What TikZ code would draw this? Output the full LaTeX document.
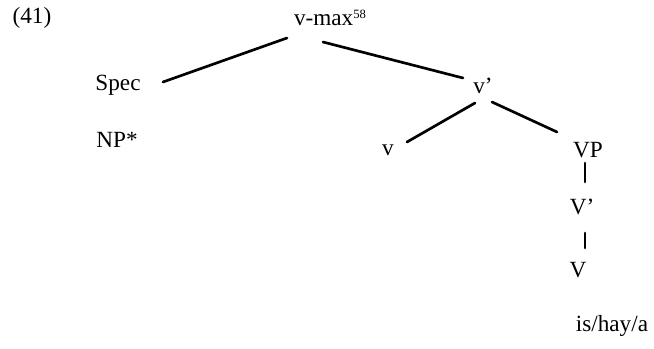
\documentclass[tikz,border=0pt]{standalone}
\usepackage{fontspec}
\setmainfont{Liberation Serif}
\usepackage{tikz}
\usetikzlibrary{
  calc
}

\begin{document}
\begin{tikzpicture}[
  x=0.025cm, y=-0.025cm,
  label/.style={
    inner sep=0pt,
    font=\fontsize{16.5}{19}\selectfont
  },
  branch/.style={
    line width=1.9pt, black, line cap=round
  }
]
  \useasboundingbox (0,0) rectangle (654,349);

  % Example number
  \node[label] (num) at (32,18) {(41)};

  % Top of the tree
  \node[label] (vmax) at (330,18) {v-max{\fontsize{9}{9}\selectfont\raisebox{1.2ex}{58}}};
  \node[label] (spec) at (118,85) {Spec};
  \node[label] (vbar) at (483,86) {v'};
  \node[label] (np) at (117,140) {NP*};

  % Lower part
  \node[label] (v) at (388,150) {v};
  \node[label] (vp) at (588,150) {VP};
  \node[label] (Vbar) at (582,207) {V'};
  \node[label] (V) at (578,270) {V};
  \node[label] (word) at (612,326) {is/hay/a};

  % Branches
  \draw[branch] ($(vmax)+(-43,20)$) -- ($(spec)+(45,-3)$);
  \draw[branch] ($(vmax)+(-7,24)$) -- ($(vbar)+(-20,-8)$);
  \draw[branch] ($(vbar)+(-8,17)$) -- ($(v)+(19,-8)$);
  \draw[branch] ($(vbar)+(9,16)$) -- ($(vp)+(-31,-18)$);
  \draw[branch] ($(vp)+(-3,13)$) -- ($(Vbar)+(3,-25)$);
  \draw[branch] ($(Vbar)+(3,26)$) -- ($(V)+(7,-22)$);
\end{tikzpicture}
\end{document}
